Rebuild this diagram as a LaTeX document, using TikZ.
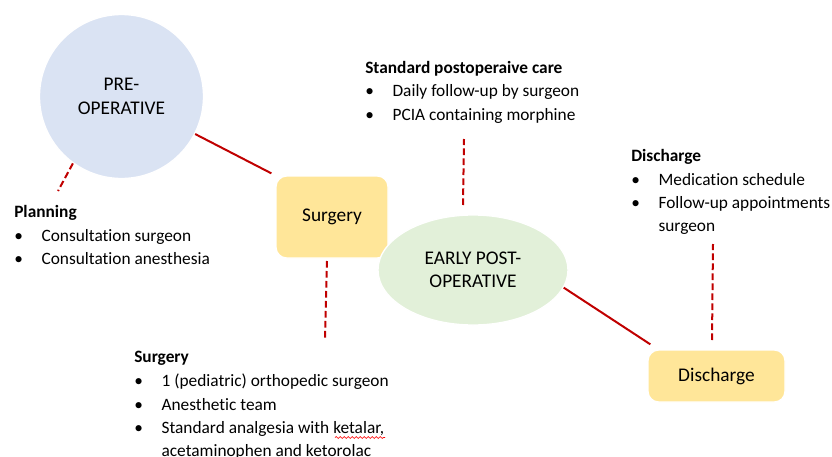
\documentclass[tikz,border=0pt]{standalone}
\usepackage{fontspec}
\setmainfont{Carlito}[Ligatures=NoCommon]
\usetikzlibrary{shapes.geometric,decorations.pathmorphing}

\definecolor{preblue}{HTML}{DAE3F3}
\definecolor{surgyellow}{HTML}{FFE699}
\definecolor{postgreen}{HTML}{E2F0D9}
\definecolor{linkred}{HTML}{C00000}

\newcommand{\bitem}[1]{\makebox[20.5pt][l]{\textbullet}#1}
\newcommand{\bcont}[1]{\hspace*{20.5pt}#1}

\tikzset{
  phase/.style={draw=white, line width=1pt, font=\fontsize{14.5}{17.5}\selectfont, align=center, inner sep=0pt},
  stagebox/.style={phase, rectangle, rounded corners=8pt, fill=surgyellow},
  infobox/.style={anchor=north west, align=left, inner sep=0pt, font=\fontsize{13}{17.5}\selectfont},
  link/.style={draw=linkred, line width=1.5pt},
  dashlink/.style={link, dash pattern=on 5pt off 2.5pt},
}

\begin{document}
\begin{tikzpicture}[x=0.75pt,y=-0.75pt]
\useasboundingbox (0,0) rectangle (832,457);
\clip (0,0) rectangle (832,457);

% stages
\node[phase, circle, fill=preblue, minimum size=123pt] (pre) at (121.5,96.5) {PRE-\\OPERATIVE};
\node[stagebox, minimum width=84pt, minimum height=61.5pt] (surg) at (332,217) {Surgery};
\node[phase, ellipse, fill=postgreen, minimum width=142.5pt, minimum height=82.5pt] (early) at (473,270) {EARLY POST-\\OPERATIVE};
\node[stagebox, minimum width=102.75pt, minimum height=39pt] (disc) at (716.5,376) {Discharge};

% info blocks
\node[infobox] (planning) at (14,205.5) {\textbf{Planning}\\
  \bitem{Consultation surgeon}\\
  \bitem{Consultation anesthesia}};
\node[infobox] (stdcare) at (365,61) {\textbf{Standard postoperaive care}\\
  \bitem{Daily follow-up by surgeon}\\
  \bitem{PCIA containing morphine}};
\node[infobox] (dischinfo) at (631,149.5) {\textbf{Discharge}\\
  \bitem{Medication schedule}\\
  \bitem{Follow-up appointments}\\
  \bcont{surgeon}};
\node[infobox] (surginfo) at (134,350.5) {\textbf{Surgery}\\[1pt]
  \bitem{1 (pediatric) orthopedic surgeon}\\
  \bitem{Anesthetic team}\\
  \bitem{Standard analgesia with ketalar,}\\
  \bcont{acetaminophen and ketorolac}};

% spell-check mark
\draw[red, line width=0.5pt, decorate, decoration={snake, amplitude=0.7pt, segment length=3pt}]
  (335,437.5) -- (385,437.5);

% free ends of the dashed links
\coordinate (plan-end) at (58,191);
\coordinate (surg-top) at (327,261);
\coordinate (surg-end) at (325,338);
\coordinate (care-end) at (464,139);
\coordinate (early-top) at (463,205);
\coordinate (disc-top) at (712,340);
\coordinate (disc-end) at (713,244);

% links
\draw[link] (pre.-27) -- ([shift={(-4,-2)}]surg.north west);
\draw[link] (early.-11) -- ([shift={(3,-5)}]disc.north west);
\draw[dashlink] (pre.234) -- (plan-end);
\draw[dashlink] (surg-top) -- (surg-end);
\draw[dashlink] (early-top) -- (care-end);
\draw[dashlink] (disc-top) -- (disc-end);
\end{tikzpicture}
\end{document}
